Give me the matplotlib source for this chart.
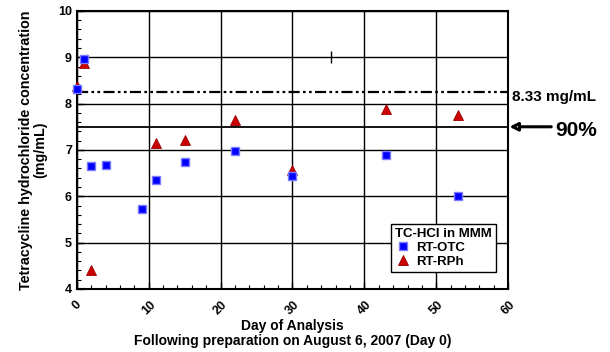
import numpy as np
import matplotlib.pyplot as plt
from matplotlib.ticker import MultipleLocator

plt.rcParams['font.family'] = ['Liberation Sans', 'DejaVu Sans']
plt.rcParams['font.weight'] = 'bold'

# RT-OTC (blue squares)
otc_day = [0, 1, 2, 4, 9, 11, 15, 22, 30, 43, 53]
otc_conc = [8.32, 8.96, 6.65, 6.67, 5.73, 6.35, 6.75, 6.97, 6.43, 6.89, 6.0]

# RT-RPh (red triangles)
rph_day = [0, 1, 2, 11, 15, 22, 30, 43, 53]
rph_conc = [8.38, 8.88, 4.42, 7.15, 7.22, 7.64, 6.56, 7.88, 7.76]

# reference levels
label_conc = 8.24   # dash-dot line, labelled 8.33 mg/mL
pct90_conc = 7.5    # 90% line

# stray mark on the chart
mark_day = [35.3]
mark_conc = [9.0]

fig = plt.figure(figsize=(6.1, 3.52), dpi=100)
ax = fig.add_axes([0.126, 0.179, 0.707, 0.79])

ax.set_xlim(0, 60)
ax.set_ylim(4, 10)
ax.xaxis.set_major_locator(MultipleLocator(10))
ax.xaxis.set_minor_locator(MultipleLocator(2))
ax.yaxis.set_major_locator(MultipleLocator(1))
ax.yaxis.set_minor_locator(MultipleLocator(0.2))
ax.grid(True, which='major', color='black', lw=1)
ax.tick_params(which='both', direction='in', labelsize=9)
ax.tick_params(axis='x', which='major', pad=7)
ax.tick_params(which='major', length=5, width=1)
ax.tick_params(which='minor', length=3, width=0.8)
for lab in ax.get_xticklabels():
    lab.set_rotation(45)
    lab.set_fontweight('bold')
for lab in ax.get_yticklabels():
    lab.set_fontweight('bold')
for s in ax.spines.values():
    s.set_linewidth(1.5)

ax.axhline(pct90_conc, color='black', lw=1.3, zorder=1)
ax.axhline(label_conc, color='black', lw=1.6, ls=(0, (5, 1.5, 1.2, 1.5, 1.2, 1.5)), zorder=1)

ax.plot(mark_day, mark_conc, ls='none', marker='|', ms=9, color='black', mew=1)

ax.plot(rph_day, rph_conc, ls='none', marker='^', ms=7, mfc='#cc0000',
        mec='#990000', mew=0.6, label='RT-RPh', zorder=3, clip_on=False)
ax.plot(otc_day, otc_conc, ls='none', marker='s', ms=6, mfc='#0000ff',
        mec='#7b7bff', mew=1, label='RT-OTC', zorder=4, clip_on=False)

handles, labels = ax.get_legend_handles_labels()
leg = ax.legend(handles[::-1], labels[::-1], title='TC-HCl in MMM', loc='lower right',
                bbox_to_anchor=(0.972, 0.061), borderaxespad=0, fontsize=9.5,
                title_fontsize=9.5, frameon=True, fancybox=False, edgecolor='black',
                framealpha=1, handletextpad=0.4, borderpad=0.3, labelspacing=0.15,
                handlelength=1.2, alignment='left')
leg.get_frame().set_linewidth(1)
leg.get_title().set_fontweight('bold')

ax.set_ylabel('Tetracycline hydrochloride concentration\n(mg/mL)', fontsize=10.3,
              fontweight='bold', labelpad=8, linespacing=1.0)
ax.set_xlabel('Day of Analysis\nFollowing preparation on August 6, 2007 (Day 0)',
              fontsize=10, fontweight='bold', labelpad=1, linespacing=1.1)

ax.text(1.01, label_conc - 0.1, '8.33 mg/mL', transform=ax.get_yaxis_transform(),
        fontsize=11, fontweight='bold', va='center', ha='left')
ax.annotate('', xy=(1.003, pct90_conc), xycoords=ax.get_yaxis_transform(),
            xytext=(1.10, pct90_conc), textcoords=ax.get_yaxis_transform(),
            arrowprops=dict(arrowstyle='-|>', ec='black', fc='white', lw=2.2,
                            mutation_scale=12, shrinkA=0, shrinkB=0))
ax.text(1.11, pct90_conc - 0.08, '90%', transform=ax.get_yaxis_transform(),
        fontsize=15, fontweight='bold', va='center', ha='left')

fig.savefig('out.png', dpi=100)
